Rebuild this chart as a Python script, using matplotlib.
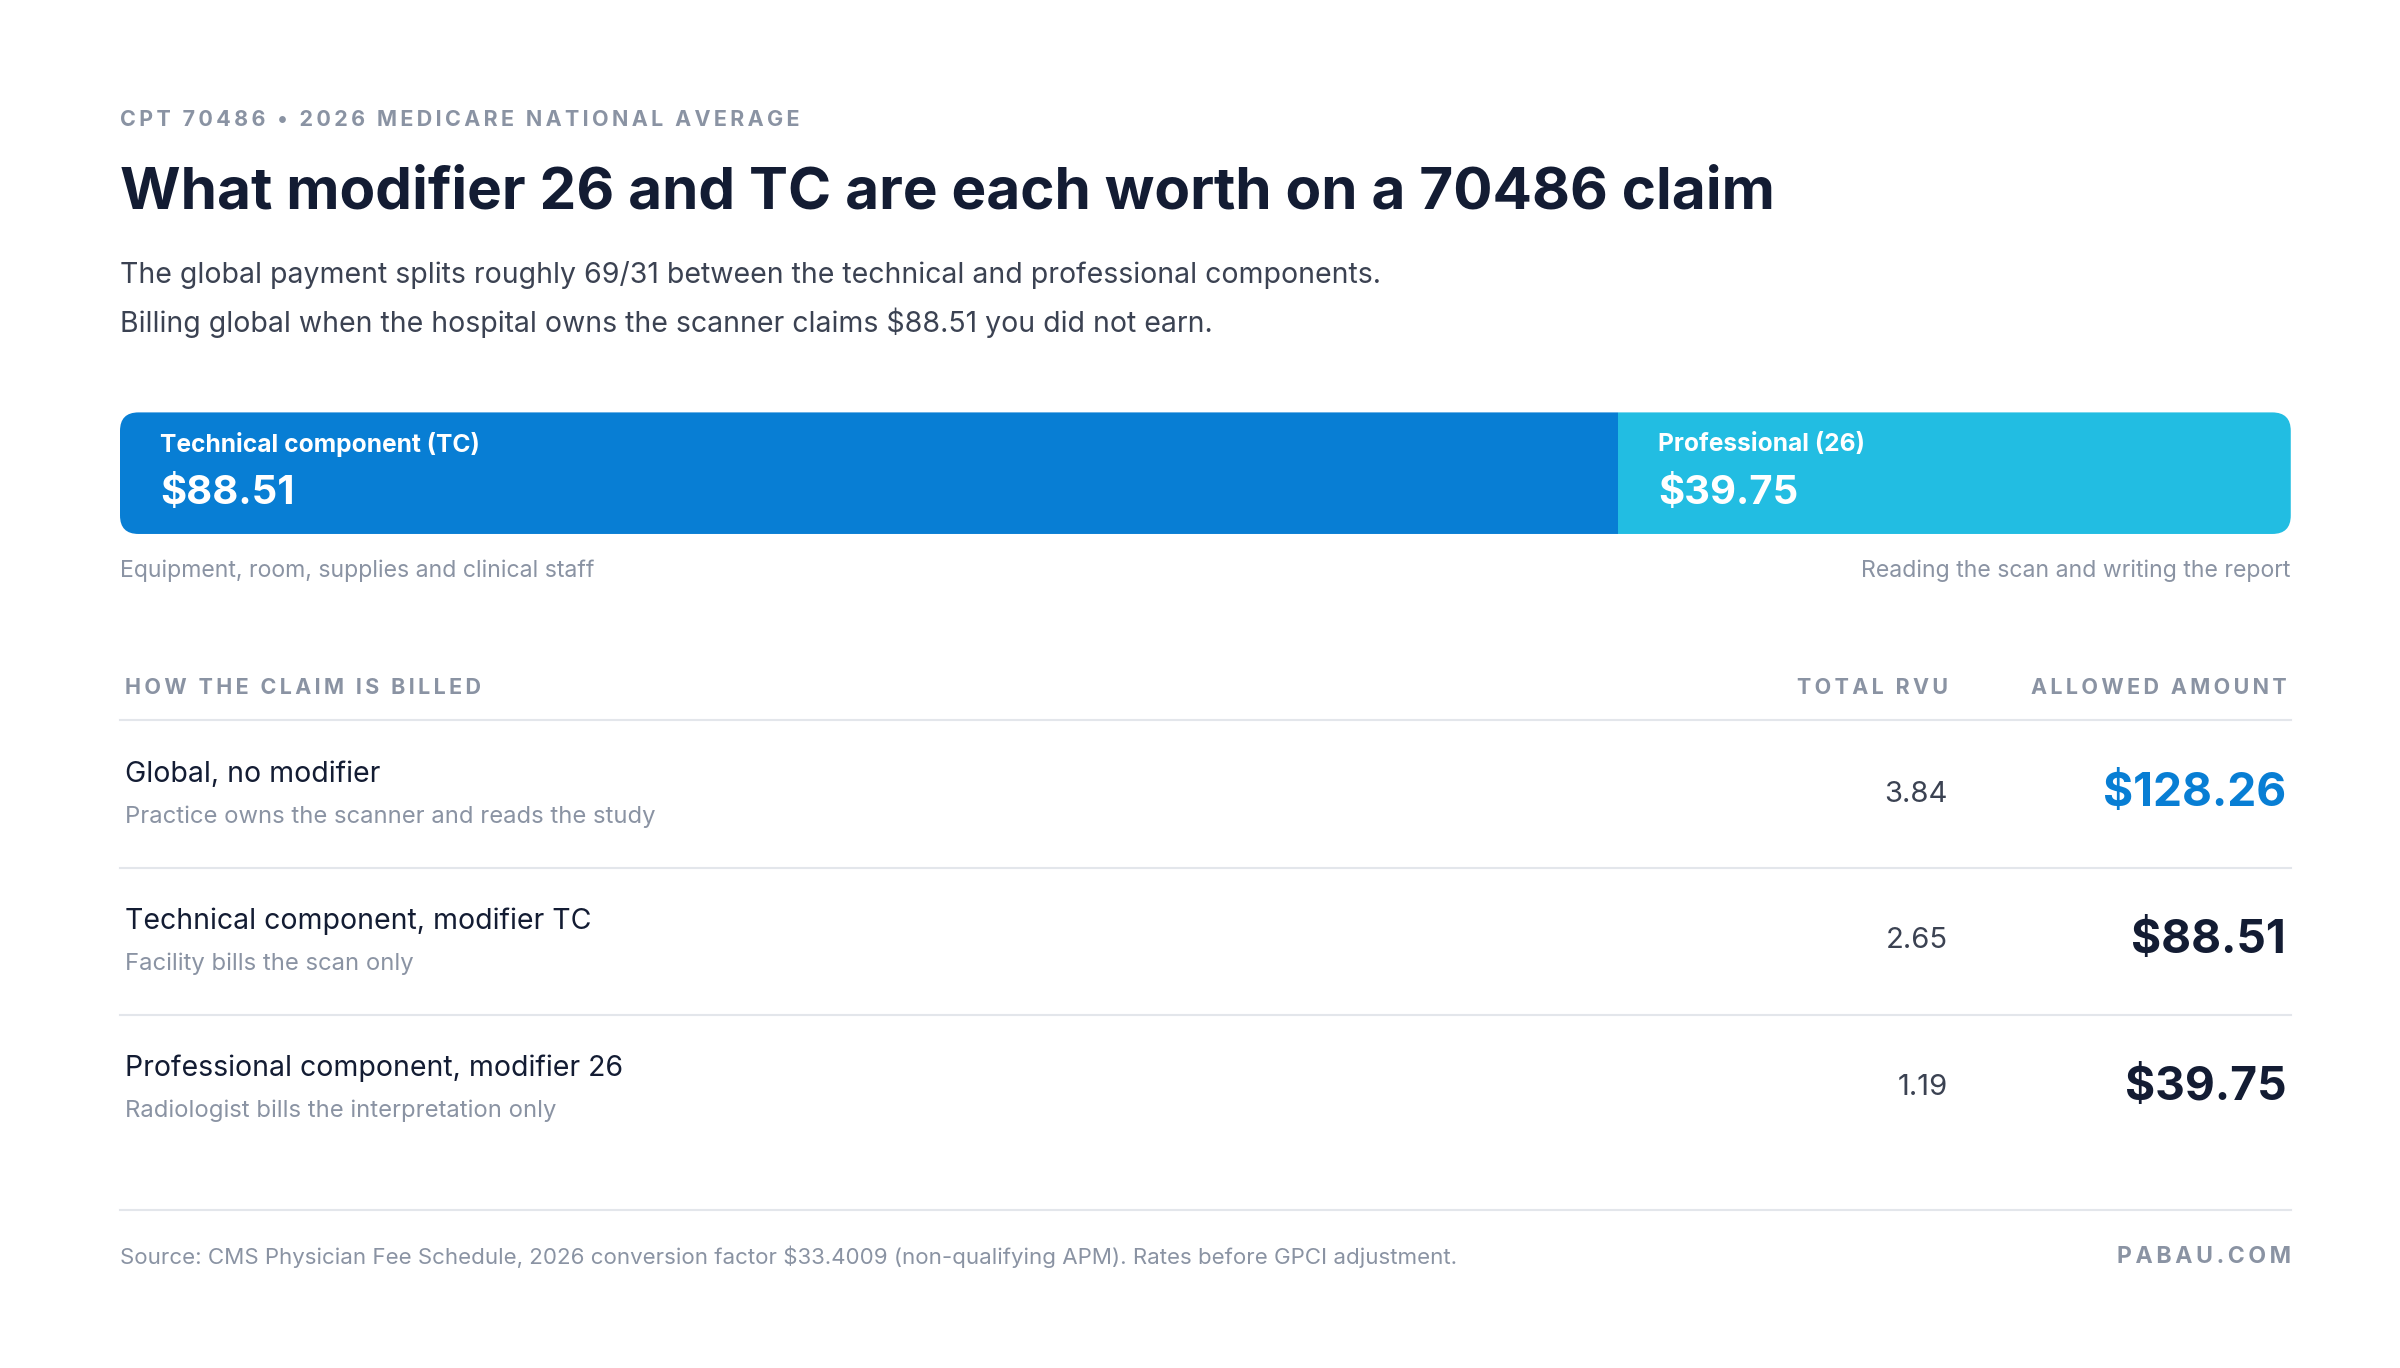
import matplotlib
matplotlib.use('Agg')
import matplotlib.pyplot as plt
from matplotlib.patches import FancyBboxPatch, Rectangle

plt.rcParams['font.family'] = ['Inter', 'DejaVu Sans']

# data
components = ['Technical component (TC)', 'Professional (26)']
comp_values = [88.51, 39.75]
comp_notes = ['Equipment, room, supplies and clinical staff', 'Reading the scan and writing the report']
rows = ['Global, no modifier', 'Technical component, modifier TC', 'Professional component, modifier 26']
row_notes = ['Practice owns the scanner and reads the study', 'Facility bills the scan only',
             'Radiologist bills the interpretation only']
rvus = [3.84, 2.65, 1.19]
amounts = [128.26, 88.51, 39.75]

NAVY = '#131c33'
LGR = '#8a93a3'
TXT = '#3b4252'
TC_C = '#087ed4'
PR_C = '#22bde2'
LINE = '#e3e6eb'

fig = plt.figure(figsize=(24, 13.68), dpi=100)
ax = fig.add_axes([0, 0, 1, 1])
ax.set_xlim(0, 1560)
ax.set_ylim(889, 0)
ax.axis('off')

S = 1.107  # displayed px -> pt


def spaced(s):
    # letter-spaced caps labels
    return '\u2009'.join(s)


def cap(x, y, s, ha='left', fs=14):
    ax.text(x, y, spaced(s), fontsize=fs * S, color=LGR, fontweight='bold', va='center', ha=ha)


cap(78, 78, 'CPT 70486 • 2026 MEDICARE NATIONAL AVERAGE')
ax.text(78, 126, 'What modifier 26 and TC are each worth on a 70486 claim', fontsize=38 * S,
        color=NAVY, fontweight='bold', va='center', ha='left')
ax.text(78, 179, 'The global payment splits roughly 69/31 between the technical and professional components.',
        fontsize=18.5 * S, color=TXT, va='center', ha='left')
ax.text(78, 210, 'Billing global when the hospital owns the scanner claims $88.51 you did not earn.',
        fontsize=18.5 * S, color=TXT, va='center', ha='left')

# stacked bar
x0, x1, yb, hb = 78, 1489, 268, 79
total = sum(comp_values)
clip = FancyBboxPatch((x0, yb), x1 - x0, hb, boxstyle='round,pad=0,rounding_size=12',
                      facecolor='none', edgecolor='none')
ax.add_patch(clip)
left = x0
for name, v, c in zip(components, comp_values, [TC_C, PR_C]):
    w = (x1 - x0) * v / total
    r = Rectangle((left, yb), w, hb, facecolor=c, edgecolor='none')
    ax.add_patch(r)
    r.set_clip_path(clip)
    ax.text(left + 26, 289, name, fontsize=16 * S, color='white', fontweight='bold', va='center')
    ax.text(left + 26, 321, f'${v:.2f}', fontsize=26 * S, color='white', fontweight='bold', va='center')
    left += w
ax.text(78, 371, comp_notes[0], fontsize=15 * S, color=LGR, va='center', ha='left')
ax.text(1489, 371, comp_notes[1], fontsize=15 * S, color=LGR, va='center', ha='right')

# table
cap(81, 447, 'HOW THE CLAIM IS BILLED')
cap(1266, 447, 'TOTAL RVU', ha='right')
cap(1486, 447, 'ALLOWED AMOUNT', ha='right')
ax.plot([78, 1489], [468, 468], color=LINE, lw=1.5)
for i, (r, n, rv, a) in enumerate(zip(rows, row_notes, rvus, amounts)):
    yc = 516 + i * 95.5
    ax.text(81, yc - 13, r, fontsize=18.5 * S, color=NAVY, va='center')
    ax.text(81, yc + 15, n, fontsize=15.5 * S, color=LGR, va='center')
    ax.text(1266, yc, f'{rv:.2f}', fontsize=19 * S, color=TXT, va='center', ha='right')
    ax.text(1486, yc, f'${a:.2f}', fontsize=30 * S, color=TC_C if i == 0 else NAVY,
            fontweight='bold', va='center', ha='right')
    if i < 2:
        ax.plot([78, 1489], [yc + 48, yc + 48], color=LINE, lw=1.5)
ax.plot([78, 1489], [786, 786], color=LINE, lw=1.5)

ax.text(78, 817, 'Source: CMS Physician Fee Schedule, 2026 conversion factor $33.4009 (non-qualifying APM). '
        'Rates before GPCI adjustment.', fontsize=14.5 * S, color=LGR, va='center')
cap(1489, 817, 'PABAU.COM', ha='right', fs=15)

fig.savefig('out.png', dpi=100, facecolor='white')
